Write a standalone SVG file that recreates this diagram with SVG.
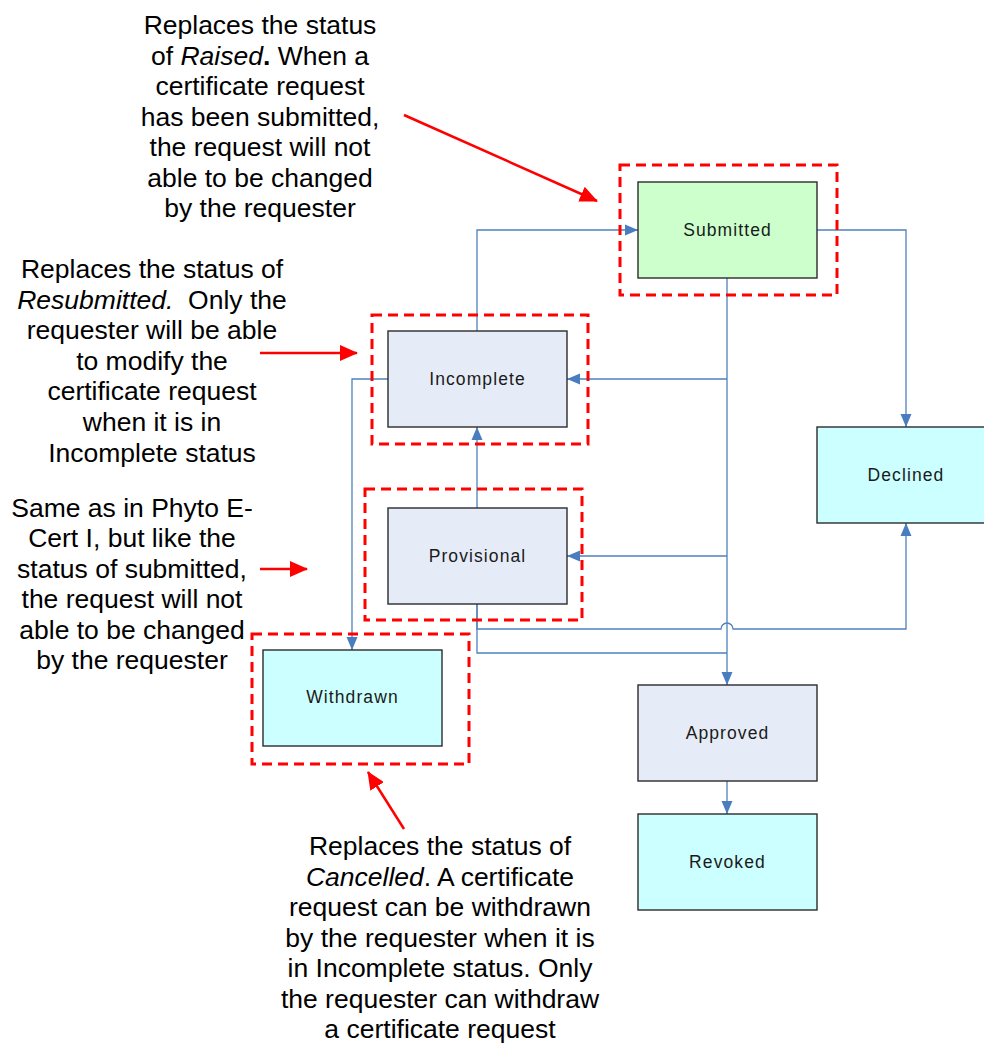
<svg xmlns="http://www.w3.org/2000/svg" width="984" height="1043" viewBox="0 0 984 1043">
<style>
.note{font-family:"Liberation Sans",Arial,sans-serif;font-size:26.5px;fill:#000;text-anchor:middle}
.lbl{font-family:"Liberation Sans",Arial,sans-serif;font-size:17.5px;letter-spacing:1.1px;fill:#1a1a1a;text-anchor:middle}
.box{stroke:#2b2b2b;stroke-width:1.4}
.sub{fill:#ccffcc}
.mid{fill:#e6ecf7}
.end{fill:#ccffff}
.dash{fill:none;stroke:#ff0000;stroke-width:3;stroke-dasharray:10 6}
.conn{fill:none;stroke:#4f81bd;stroke-width:1.3}
.red{fill:none;stroke:#ff0000;stroke-width:2.5}
</style>
<defs>
<marker id="arr" markerUnits="userSpaceOnUse" markerWidth="13" markerHeight="12" refX="13" refY="6" orient="auto">
<path d="M0,0.5 L13,6 L0,11.5 z" fill="#4a7cc0"/>
</marker>
<marker id="rarr" markerUnits="userSpaceOnUse" markerWidth="18" markerHeight="16" refX="17" refY="8" orient="auto">
<path d="M0,0 L18,8 L0,16 z" fill="#ff0000"/>
</marker>
</defs>
<rect width="984" height="1043" fill="#fff"/>

<g id="connectors">
<path class="conn" d="M477,331 V230 H638" marker-end="url(#arr)"/>
<path class="conn" d="M727,278 V685" marker-end="url(#arr)"/>
<path class="conn" d="M727,379 H567" marker-end="url(#arr)"/>
<path class="conn" d="M727,556 H567" marker-end="url(#arr)"/>
<path class="conn" d="M817,230 H906 V427" marker-end="url(#arr)"/>
<path class="conn" d="M388,379 H352 V650" marker-end="url(#arr)"/>
<path class="conn" d="M477,508 V427" marker-end="url(#arr)"/>
<path class="conn" d="M477,604 V629 H721 A6,6 0 0 1 733,629 H906 V523" marker-end="url(#arr)"/>
<path class="conn" d="M477,604 V653 H727"/>
<path class="conn" d="M727,781 V814" marker-end="url(#arr)"/>
</g>

<g id="highlights">
<rect class="dash" x="620" y="165" width="217" height="130"/>
<rect class="dash" x="372" y="315" width="216" height="129"/>
<rect class="dash" x="365" y="489" width="217" height="131"/>
<rect class="dash" x="252" y="634" width="217" height="130"/>
</g>

<g id="submitted">
<rect class="box sub" x="638" y="182" width="179" height="96"/>
<text class="lbl" x="727.5" y="236">Submitted</text>
</g>
<g id="incomplete">
<rect class="box mid" x="388" y="331" width="179" height="96"/>
<text class="lbl" x="477.5" y="385">Incomplete</text>
</g>
<g id="provisional">
<rect class="box mid" x="388" y="508" width="179" height="96"/>
<text class="lbl" x="477.5" y="562">Provisional</text>
</g>
<g id="withdrawn">
<rect class="box end" x="263" y="650" width="179" height="96"/>
<text class="lbl" x="352.5" y="703">Withdrawn</text>
</g>
<g id="declined">
<rect class="box end" x="817" y="427" width="179" height="96"/>
<text class="lbl" x="906" y="481">Declined</text>
</g>
<g id="approved">
<rect class="box mid" x="638" y="685" width="179" height="96"/>
<text class="lbl" x="727.5" y="739">Approved</text>
</g>
<g id="revoked">
<rect class="box end" x="638" y="814" width="179" height="96"/>
<text class="lbl" x="727.5" y="868">Revoked</text>
</g>

<g id="note-submitted">
<text class="note"><tspan x="260" y="34">Replaces the status</tspan><tspan x="260" y="64.5">of <tspan font-style="italic">Raised</tspan><tspan font-weight="bold">.</tspan> When a</tspan><tspan x="260" y="95">certificate request</tspan><tspan x="260" y="125.5">has been submitted,</tspan><tspan x="260" y="156">the request will not</tspan><tspan x="260" y="186.5">able to be changed</tspan><tspan x="260" y="217">by the requester</tspan></text>
<path class="red" d="M404,115 L597,201" marker-end="url(#rarr)"/>
</g>

<g id="note-incomplete">
<text class="note" xml:space="preserve"><tspan x="152" y="278">Replaces the status of</tspan><tspan x="152" y="308.6"><tspan font-style="italic">Resubmitted.</tspan>  Only the</tspan><tspan x="152" y="339.2">requester will be able</tspan><tspan x="152" y="369.8">to modify the</tspan><tspan x="152" y="400.4">certificate request</tspan><tspan x="152" y="431">when it is in</tspan><tspan x="152" y="461.6">Incomplete status</tspan></text>
<path class="red" d="M260,353 L357,353" marker-end="url(#rarr)"/>
</g>

<g id="note-provisional">
<text class="note"><tspan x="132" y="516.7">Same as in Phyto E-</tspan><tspan x="132" y="547.2">Cert I, but like the</tspan><tspan x="132" y="577.7">status of submitted,</tspan><tspan x="132" y="608.2">the request will not</tspan><tspan x="132" y="638.7">able to be changed</tspan><tspan x="132" y="669.2">by the requester</tspan></text>
<path class="red" d="M260,569 L307,569" marker-end="url(#rarr)"/>
</g>

<g id="note-withdrawn">
<text class="note"><tspan x="440" y="855">Replaces the status of</tspan><tspan x="440" y="885.5"><tspan font-style="italic">Cancelled</tspan>. A certificate</tspan><tspan x="440" y="916">request can be withdrawn</tspan><tspan x="440" y="946.5">by the requester when it is</tspan><tspan x="440" y="977">in Incomplete status. Only</tspan><tspan x="440" y="1007.5">the requester can withdraw</tspan><tspan x="440" y="1038">a certificate request</tspan></text>
<path class="red" d="M404,829 L368,772" marker-end="url(#rarr)"/>
</g>
</svg>
